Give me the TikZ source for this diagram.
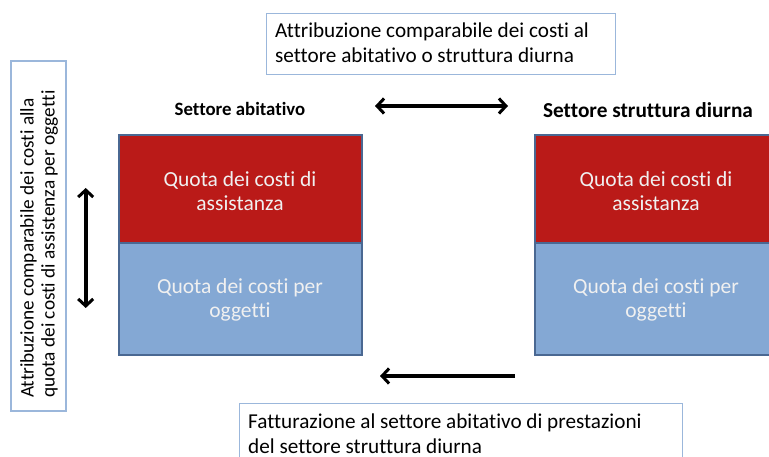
\documentclass[tikz,border=0pt]{standalone}
\usepackage{fontspec}
\setmainfont{Carlito}[Ligatures=NoCommon]
\usetikzlibrary{arrows.meta}
\definecolor{cred}{RGB}{186,26,24}
\definecolor{cblue}{RGB}{132,168,212}
\definecolor{cborder}{RGB}{74,104,146}
\definecolor{tborder}{RGB}{155,183,219}
\definecolor{ctext}{RGB}{240,240,240}
\tikzset{
  tbox/.style={draw=tborder, line width=1.3pt, fill=white},
  redpart/.style={draw=cborder, line width=1.8pt, fill=cred, minimum width=243pt, minimum height=108pt, inner sep=0pt},
  bluepart/.style={draw=cborder, line width=1.8pt, fill=cblue, minimum width=243pt, minimum height=112pt, inner sep=0pt},
  blocktxt/.style={font=\fontsize{21.5}{25.5}\selectfont, text=ctext, anchor=base, inner sep=0pt},
  boxtxt/.style={font=\fontsize{21.2}{25}\selectfont, align=left, inner sep=0pt, anchor=base west},
  tip/.tip={Straight Barb[length=7pt,width=15pt,line width=3pt]},
  arr/.style={line width=3.6pt, -tip},
  darr/.style={line width=3.6pt, tip-tip},
}
\begin{document}
\begin{tikzpicture}[x=1pt,y=-1pt]
\useasboundingbox (0,0) rectangle (769,457);
\clip (0,0) rectangle (769,457);
% top text box
\node[tbox, minimum width=349pt, minimum height=61pt, anchor=north west, inner sep=0pt] (topbox) at (266,13) {};
\node[boxtxt] (toptxt) at (275,62.5) {Attribuzione comparabile dei costi al\\settore abitativo o struttura diurna};
% left vertical box
\node[tbox, minimum width=55pt, minimum height=350pt, anchor=north west, inner sep=0pt] (leftbox) at (10.3,60.3) {};
\node[boxtxt, rotate=90, font=\fontsize{19.3}{21}\selectfont] (lefttxt) at (54.5,398) {Attribuzione comparabile dei costi alla\\quota dei costi di assistenza per oggetti};
% bottom text box
\node[tbox, minimum width=443pt, minimum height=80pt, anchor=north west, inner sep=0pt] (botbox) at (239,403) {};
\node[boxtxt] (bottxt) at (248,453) {Fatturazione al settore abitativo di prestazioni\\del settore struttura diurna};
% titles
\node[font=\bfseries\fontsize{18.8}{22}\selectfont] (t1) at (240,109) {Settore abitativo};
\node[font=\bfseries\fontsize{21.3}{25}\selectfont] (t2) at (648,110) {Settore struttura diurna};
% left block
\node[redpart, anchor=north west] (r1) at (118,134) {};
\node[bluepart, anchor=north west] (b1) at (118,242) {};
\node[blocktxt] (r1a) at (240,187) {Quota dei costi di};
\node[blocktxt] (r1b) at (240,211) {assistanza};
\node[blocktxt] (b1a) at (240,294) {Quota dei costi per};
\node[blocktxt] (b1b) at (240,318) {oggetti};
% right block
\node[redpart, anchor=north west] (r2) at (534,134) {};
\node[bluepart, anchor=north west] (b2) at (534,242) {};
\node[blocktxt] (r2a) at (656,187) {Quota dei costi di};
\node[blocktxt] (r2b) at (656,211) {assistanza};
\node[blocktxt] (b2a) at (656,294) {Quota dei costi per};
\node[blocktxt] (b2b) at (656,318) {oggetti};
% arrows
\coordinate (h1) at (375,106);
\coordinate (h2) at (508,106);
\draw[darr] (h1) -- (h2);
\coordinate (v1) at (85.7,188);
\coordinate (v2) at (85.7,308);
\draw[darr] (v1) -- (v2);
\coordinate (a1) at (515,376);
\coordinate (a2) at (380,376);
\draw[arr] (a1) -- (a2);
\end{tikzpicture}
\end{document}
